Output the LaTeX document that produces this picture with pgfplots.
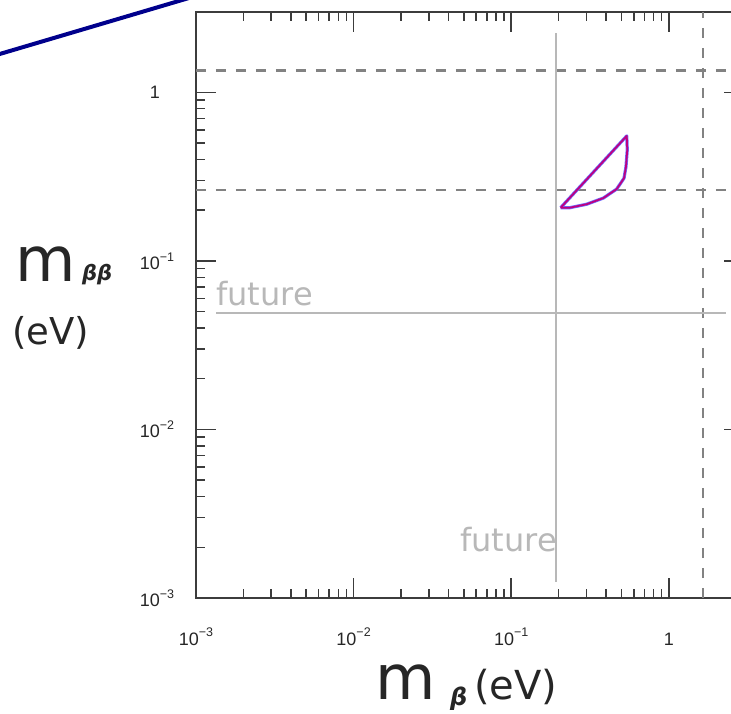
\documentclass[border=0pt]{standalone}
\usepackage{fontspec}
\setmainfont{Liberation Sans}
\newfontfamily\dejavu{DejaVu Sans}
\usepackage{pgfplots}
\pgfplotsset{compat=1.18}
\definecolor{futgray}{RGB}{184,184,184}
\definecolor{dashgray}{RGB}{130,130,130}
\definecolor{axgray}{RGB}{60,60,60}
\definecolor{navyline}{RGB}{0,0,140}
\definecolor{contblue}{RGB}{110,110,255}
\definecolor{contred}{RGB}{190,0,130}
\newcommand{\tsup}[1]{\raisebox{0.45em}{\fontsize{12.5}{13}\selectfont #1}}
\begin{document}
\begin{tikzpicture}
\begin{axis}[
  scale only axis, width=548pt, height=586pt,
  xmode=log, ymode=log,
  xmin=1e-3, xmax=3, ymin=1e-3, ymax=3,
  axis line style={line width=2pt, axgray},
  tick align=inside,
  major tick length=20pt, minor tick length=9pt,
  every tick/.style={line width=1.5pt, axgray},
  xtick={1e-3,1e-2,1e-1,1},
  ytick={1e-3,1e-2,1e-1,1},
  xticklabels={10\tsup{−3},10\tsup{−2},10\tsup{−1},1},
  yticklabels={10\rlap{\tsup{−3}},10\rlap{\tsup{−2}},10\rlap{\tsup{−1}},1},
  tick label style={font=\fontsize{18}{20}\selectfont, text=black!85},
  xticklabel style={anchor=base, inner sep=0pt, yshift=-47pt},
  yticklabel style={anchor=east, inner sep=0pt, xshift=-36pt},
]
\addplot[dashgray, line width=2.2pt, dash pattern=on 10pt off 10pt] coordinates {(1e-3,1.35) (3,1.35)};
\addplot[dashgray, line width=2.2pt, dash pattern=on 10pt off 10pt] coordinates {(1e-3,0.264) (3,0.264)};
\addplot[dashgray, line width=2.2pt, dash pattern=on 10pt off 10pt] coordinates {(1.65,1e-3) (1.65,3)};
\addplot[futgray, line width=2.5pt] coordinates {(1.34e-3,0.049) (2.31,0.049)};
\addplot[futgray, line width=2.5pt] coordinates {(0.192,1.245e-3) (0.192,2.25)};
\addplot[contblue, line width=3.2pt, line join=round] coordinates {
  (0.206,0.207) (0.541,0.552) (0.545,0.456) (0.535,0.363) (0.520,0.310)
  (0.467,0.267) (0.384,0.236) (0.301,0.217) (0.236,0.207) (0.206,0.207)};
\addplot[contred, line width=1.8pt, line join=round] coordinates {
  (0.206,0.207) (0.541,0.552) (0.545,0.456) (0.535,0.363) (0.520,0.310)
  (0.467,0.267) (0.384,0.236) (0.301,0.217) (0.236,0.207) (0.206,0.207)};
\node[anchor=base west, inner sep=0pt, font=\dejavu\fontsize{32}{34}\selectfont, text=futgray] at (axis cs:1.34e-3,0.0545) {future};
\node[anchor=base east, inner sep=0pt, font=\dejavu\fontsize{32}{34}\selectfont, text=futgray] at (axis cs:0.195,1.9e-3) {future};
\end{axis}
% axis labels
\node[anchor=base west, inner sep=0pt, font=\dejavu\fontsize{62}{64}\selectfont, text=black!85] at (-181pt,316pt) {m};
\node[anchor=base west, inner sep=0pt, font=\dejavu\bfseries\itshape\fontsize{21}{23}\selectfont, text=black!85] at (-114pt,317pt) {ββ};
\node[anchor=base west, inner sep=0pt, font=\dejavu\fontsize{37}{40}\selectfont, text=black!85] at (-184pt,253pt) {(eV)};
\node[anchor=base west, inner sep=0pt, font=\dejavu\fontsize{62}{64}\selectfont, text=black!85] at (179pt,-102pt) {m};
\node[anchor=base west, inner sep=0pt, font=\dejavu\bfseries\itshape\fontsize{24}{26}\selectfont, text=black!85] at (254pt,-108pt) {β};
\node[anchor=base west, inner sep=0pt, font=\dejavu\fontsize{40}{42}\selectfont, text=black!85] at (278pt,-102pt) {(eV)};
% decorative slide line
\draw[navyline, line width=4pt] (-230pt,534pt) -- (20pt,608pt);
\pgfresetboundingbox
\useasboundingbox (-196pt,-116pt) rectangle (535pt,598pt);
\end{tikzpicture}
\end{document}
